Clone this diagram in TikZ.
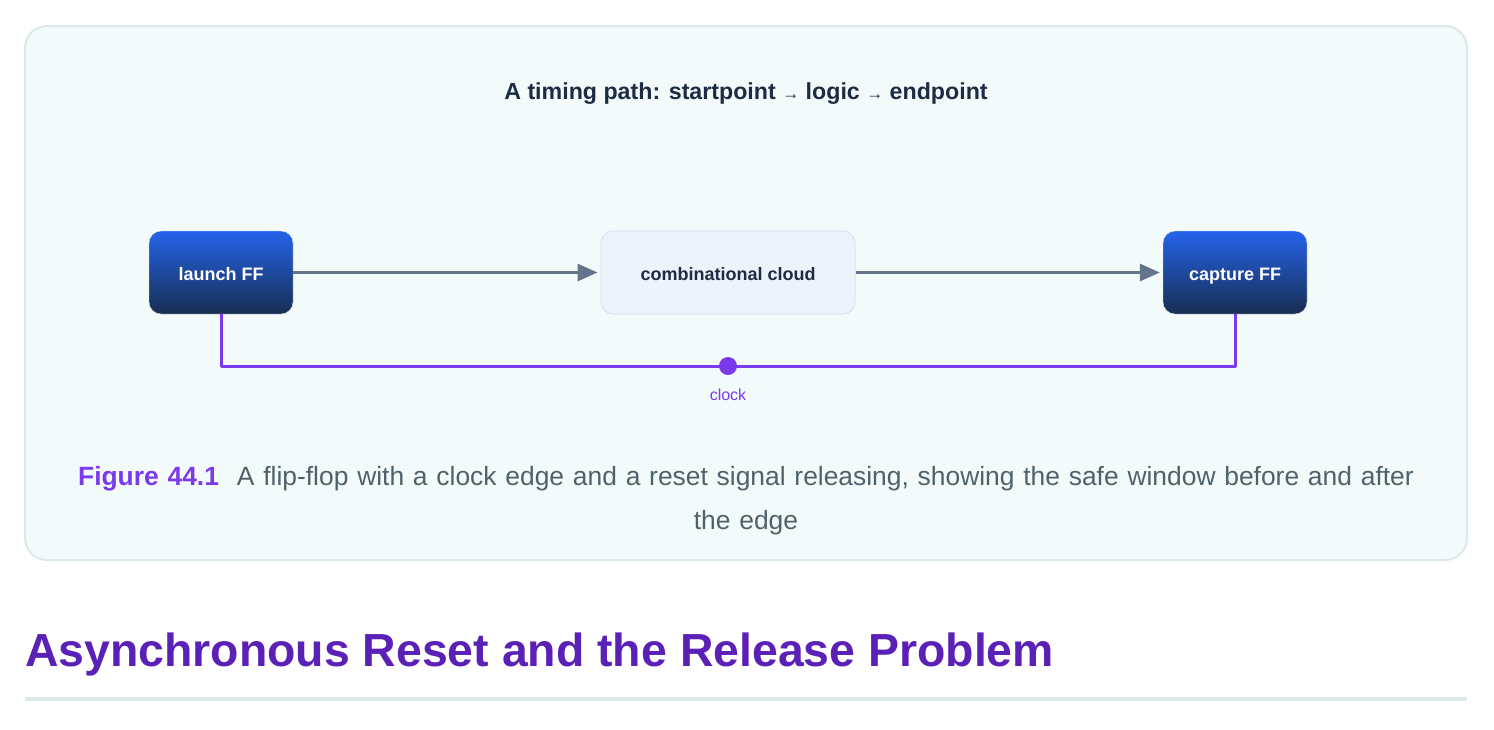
\documentclass[tikz,border=0pt]{standalone}
\usepackage{fontspec}
\setmainfont{Liberation Sans}
\usetikzlibrary{arrows.meta,positioning,calc}
\definecolor{panel}{HTML}{F3FAFA}
\definecolor{panelline}{HTML}{DCE9EC}
\definecolor{ink}{HTML}{1E2B45}
\definecolor{ffTop}{HTML}{2563EB}
\definecolor{ffBot}{HTML}{172E50}
\definecolor{cloudfill}{HTML}{EDF3FB}
\definecolor{cloudline}{HTML}{DDE4EE}
\definecolor{wire}{HTML}{64748B}
\definecolor{clk}{HTML}{7C3AED}
\definecolor{capgray}{HTML}{4F626C}
\definecolor{head}{HTML}{5B21B6}
\tikzset{
  ff/.style={rounded corners=12pt, minimum width=144pt, minimum height=83pt, text height=15pt, text depth=0pt, top color=ffTop, bottom color=ffBot, draw=cloudline, text=white, font=\fontsize{18}{20}\selectfont\bfseries},
  logic/.style={rounded corners=12pt, minimum width=254pt, minimum height=83pt, text height=15pt, text depth=0pt, fill=cloudfill, draw=cloudline, line width=1pt, text=ink, font=\fontsize{18}{20}\selectfont\bfseries},
  datapath/.style={wire, line width=3pt, shorten >=3pt, -{Triangle[length=20pt,width=17pt]}},
  clkline/.style={draw=clk, line width=3pt, line join=round}
}
\begin{document}
\begin{tikzpicture}[x=1pt, y=-1pt]
\useasboundingbox (0,0) rectangle (1494,729);
\fill[white] (0,0) rectangle (1494,729);
\draw[panelline, fill=panel, line width=2pt, rounded corners=22pt] (25,26) rectangle (1467,560);
\node[text=ink, font=\fontsize{23.2}{25}\selectfont\bfseries] (title) at (746,94) {A timing path: startpoint {\fontsize{17}{18}\selectfont →} logic {\fontsize{17}{18}\selectfont →} endpoint};
\node[ff] (launch) at (221,272.5) {launch FF};
\node[logic] (cloud) at (728,272.5) {combinational cloud};
\node[ff] (capture) at (1235,272.5) {capture FF};
\draw[datapath] (launch.east) -- (cloud.west);
\draw[datapath] (cloud.east) -- (capture.west);
\coordinate (clkL) at (221,366);
\coordinate (clkR) at (1235,366);
\coordinate[label={[text=clk, font=\fontsize{16}{18}\selectfont, label distance=19pt]below:clock}] (tap) at (728,366);
\draw[clkline] (launch.south) -- (clkL) -- (clkR) -- (capture.south);
\fill[clk] (tap) circle (9pt);
\node[text width=1380pt, align=center, text=capgray, font=\fontsize{26.4}{44}\selectfont] (caption) at (746,501) {{\color{clk}\bfseries Figure 44.1}\hspace{18pt}A flip-flop with a clock edge and a reset signal releasing, showing the safe window before and after the edge};
\node[anchor=base west, inner sep=0pt, text=head, font=\fontsize{46.4}{50}\selectfont\bfseries] (heading) at (25,666) {Asynchronous Reset and the Release Problem};
\fill[panelline] (25,697) rectangle (1467,701);
\end{tikzpicture}
\end{document}
